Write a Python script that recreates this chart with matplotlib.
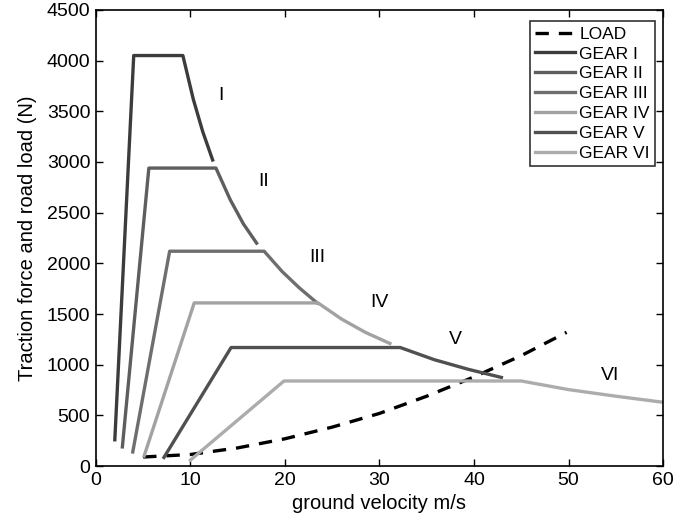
import numpy as np
import matplotlib
matplotlib.use('Agg')
import matplotlib.pyplot as plt

plt.rcParams['font.family'] = ['Liberation Sans', 'DejaVu Sans']

# 道路负载
load_v = [5.0, 10, 15, 20, 25, 30, 35, 40, 45, 49.8]
load_f = [90, 115, 180, 270, 385, 520, 690, 880, 1090, 1320]

# 各档位牵引力曲线
gear1_v = [2.0, 4.0, 9.2, 10.3, 11.3, 12.35]
gear1_f = [260, 4050, 4050, 3620, 3300, 3020]
gear2_v = [2.8, 5.6, 12.7, 14.2, 15.6, 17.0]
gear2_f = [190, 2940, 2940, 2630, 2390, 2200]
gear3_v = [3.9, 7.8, 17.8, 19.7, 21.5, 23.4]
gear3_f = [140, 2120, 2120, 1920, 1760, 1610]
gear4_v = [5.1, 10.4, 23.5, 26.0, 28.5, 31.1]
gear4_f = [100, 1610, 1610, 1450, 1320, 1210]
gear5_v = [7.2, 14.3, 32.2, 35.8, 39.4, 42.9]
gear5_f = [86, 1170, 1170, 1050, 955, 875]
gear6_v = [10.0, 19.9, 45.0, 50.0, 55.0, 60.0]
gear6_f = [60, 840, 840, 755, 690, 630]

gear_names = ['GEAR I', 'GEAR II', 'GEAR III', 'GEAR IV', 'GEAR V', 'GEAR VI']
gear_colors = ['#3c3c3c', '#5e5e5e', '#6e6e6e', '#a2a2a2', '#505050', '#acacac']
roman = ['I', 'II', 'III', 'IV', 'V', 'VI']
label_x = [13.2, 17.7, 23.4, 30.0, 38.0, 54.4]
label_y = [3660, 2810, 2060, 1610, 1250, 890]

fig = plt.figure(figsize=(6.95, 5.22), dpi=100)
ax = fig.add_axes([0.138, 0.107, 0.816, 0.874])

ax.plot(load_v, load_f, color='black', linestyle='--', linewidth=2.4, dashes=(4, 3), label='LOAD')
gears = [(gear1_v, gear1_f), (gear2_v, gear2_f), (gear3_v, gear3_f),
         (gear4_v, gear4_f), (gear5_v, gear5_f), (gear6_v, gear6_f)]
for (v, f), name, c in zip(gears, gear_names, gear_colors):
    ax.plot(v, f, color=c, linewidth=2.4, label=name)

for t, x, y in zip(roman, label_x, label_y):
    ax.text(x, y, t, fontsize=14, ha='center', va='center')

ax.set_xlim(0, 60)
ax.set_ylim(0, 4500)
ax.set_xticks(np.arange(0, 61, 10))
ax.set_yticks(np.arange(0, 4501, 500))
ax.tick_params(direction='in', top=True, right=True, labelsize=14, length=5, width=1, pad=4)
for s in ax.spines.values():
    s.set_linewidth(1.2)
ax.set_xlabel('ground velocity m/s', fontsize=14.5, labelpad=4)
ax.set_ylabel('Traction force and road load (N)', fontsize=14.5, labelpad=7)

leg = ax.legend(loc='upper right', fontsize=12.5, frameon=True, fancybox=False,
                edgecolor='black', handlelength=2.3, handletextpad=0.25,
                labelspacing=0.27, borderpad=0.3, borderaxespad=0,
                bbox_to_anchor=(0.986, 0.975))
leg.get_frame().set_linewidth(1.2)

fig.savefig('out.png', dpi=100)
